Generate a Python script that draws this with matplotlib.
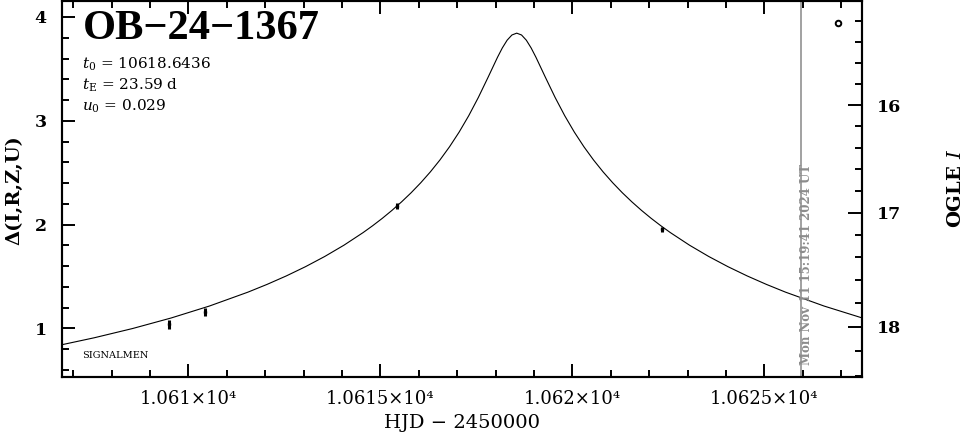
import matplotlib.pyplot as plt
from matplotlib.ticker import MultipleLocator, FuncFormatter
import numpy as np

plt.rcParams['font.family'] = 'DejaVu Serif'
plt.rcParams['mathtext.fontset'] = 'dejavuserif'

# model curve: HJD-2450000 and magnification in mag
model_t = [10606.55, 10607.55, 10608.55, 10609.55, 10610.55, 10611.55, 10612.05,
           10612.55, 10613.05, 10613.55, 10614.05, 10614.55, 10614.80, 10615.05,
           10615.30, 10615.55, 10615.80, 10616.05, 10616.30, 10616.55, 10616.80,
           10617.05, 10617.30, 10617.55, 10617.80, 10618.05, 10618.175, 10618.30,
           10618.425, 10618.55, 10618.675, 10618.80, 10618.925, 10619.05, 10619.30,
           10619.55, 10619.80, 10620.05, 10620.30, 10620.55, 10620.80, 10621.05,
           10621.30, 10621.55, 10621.80, 10622.05, 10622.30, 10622.55, 10623.05,
           10623.55, 10624.05, 10624.55, 10625.05, 10625.55, 10626.55, 10627.55,
           10628.55]
model_d = [0.8305, 0.9099, 0.9992, 1.1003, 1.2158, 1.3492, 1.4242,
           1.5056, 1.5947, 1.6928, 1.8014, 1.9231, 1.9896, 2.0605,
           2.1366, 2.2185, 2.3067, 2.4027, 2.5074, 2.6224, 2.7496,
           2.8910, 3.0488, 3.2245, 3.4162, 3.6123, 3.7019, 3.7764,
           3.8266, 3.8443, 3.8266, 3.7764, 3.7019, 3.6123, 3.4162,
           3.2245, 3.0488, 2.8910, 2.7496, 2.6224, 2.5074, 2.4027,
           2.3067, 2.2185, 2.1366, 2.0605, 1.9896, 1.9231, 1.8014,
           1.6928, 1.5947, 1.5056, 1.4242, 1.3492, 1.2158, 1.1003,
           0.9992]

# OGLE observations
obs_t = [10609.50, 10610.44, 10615.42, 10622.33]
obs_d = [1.040, 1.160, 2.182, 1.956]
obs_err = [0.045, 0.040, 0.028, 0.025]

# odd marker near the top right corner
extra_t = [10626.92]
extra_d = [3.94]

now_t = 10625.94
stamp = "Mon Nov 11 15:19:41 2024 UT"

# right axis: OGLE I magnitude (baseline and blending)
i_base = 18.81
f_s = 0.715
mag_major = [16, 17, 18]
mag_minor = [15.2, 15.4, 15.6, 15.8, 16.2, 16.4, 16.6, 16.8,
             17.2, 17.4, 17.6, 17.8, 18.2, 18.4]


def mag_to_delta(m):
    m = np.asarray(m, dtype=float)
    return 2.5 * np.log10((10 ** ((i_base - m) / 2.5) - 1) / f_s + 1)


fig = plt.figure(figsize=(9.65, 4.34), dpi=100)
ax = fig.add_axes([62 / 965, 1 - 377 / 434, 800 / 965, 376 / 434])

ax.plot(model_t, model_d, color='black', lw=0.8)
ax.errorbar(obs_t, obs_d, yerr=obs_err, fmt='s', ms=2, color='black',
            ecolor='black', elinewidth=2.2, capsize=0)
ax.plot(extra_t, extra_d, 'o', mfc='none', mec='black', ms=4, mew=1.4)

ax.axvline(now_t, color='#9a9a9a', lw=1.3)
ax.text(10626.10, 0.645, stamp, rotation=90, color='#8c8c8c', fontsize=8.5,
        fontweight='bold', ha='center', va='bottom')

ax.set_xlim(10606.71, 10627.54)
ax.set_ylim(0.532, 4.154)

ax.xaxis.set_major_locator(MultipleLocator(5))
ax.xaxis.set_minor_locator(MultipleLocator(1))
ax.yaxis.set_major_locator(MultipleLocator(1))
ax.yaxis.set_minor_locator(MultipleLocator(0.2))
ax.xaxis.set_major_formatter(FuncFormatter(lambda v, p: f"{v / 1e4:g}\u00d710\u2074"))
ax.yaxis.set_major_formatter(FuncFormatter(lambda v, p: f"{v:g}"))

ax.tick_params(which='both', direction='in', top=True, right=False, width=1.4)
ax.tick_params(which='major', length=9.5)
ax.tick_params(which='minor', length=5)
ax.tick_params(axis='x', labelsize=13, pad=9)
ax.tick_params(axis='y', labelsize=12.5, pad=11)
for lab in ax.get_yticklabels():
    lab.set_fontweight('bold')
for sp in ax.spines.values():
    sp.set_linewidth(1.5)

ax2 = ax.twinx()
ax2.set_ylim(ax.get_ylim())
ax2.set_yticks(mag_to_delta(mag_major))
ax2.set_yticklabels([str(m) for m in mag_major], fontweight='bold')
ax2.set_yticks(mag_to_delta(mag_minor), minor=True)
ax2.tick_params(which='both', direction='in', width=1.4, labelsize=12.5, pad=11)
ax2.tick_params(which='major', length=10)
ax2.tick_params(which='minor', length=5)
for sp in ax2.spines.values():
    sp.set_linewidth(1.5)

ax.text(0.026, 0.975, "OB\u221224\u22121367", transform=ax.transAxes,
        fontsize=30.5, fontweight='bold', family='Liberation Serif', va='top', ha='left')
ax.text(0.025, 0.832, r"$t_0$ = 10618.6436", transform=ax.transAxes,
        fontsize=11, va='center', ha='left')
ax.text(0.025, 0.777, r"$t_{\rm E}$ = 23.59 d", transform=ax.transAxes,
        fontsize=11, va='center', ha='left')
ax.text(0.025, 0.721, r"$u_0$ = 0.029", transform=ax.transAxes,
        fontsize=11, va='center', ha='left')
ax.text(0.025, 0.0585, "SIGNALMEN", transform=ax.transAxes,
        fontsize=7, va='center', ha='left')

fig.text(14 / 965, 1 - 190 / 434, "\u0394(I,R,Z,U)", rotation=90,
         fontsize=14, fontweight='bold', ha='center', va='center')
fig.text(956 / 965, 1 - 188 / 434, "OGLE $I$", rotation=90,
         fontsize=14, fontweight='bold', ha='center', va='center')
fig.text(462 / 965, 1 - 423 / 434, "HJD \u2212 2450000",
         fontsize=14, ha='center', va='center')

fig.savefig('out.png', dpi=100)
